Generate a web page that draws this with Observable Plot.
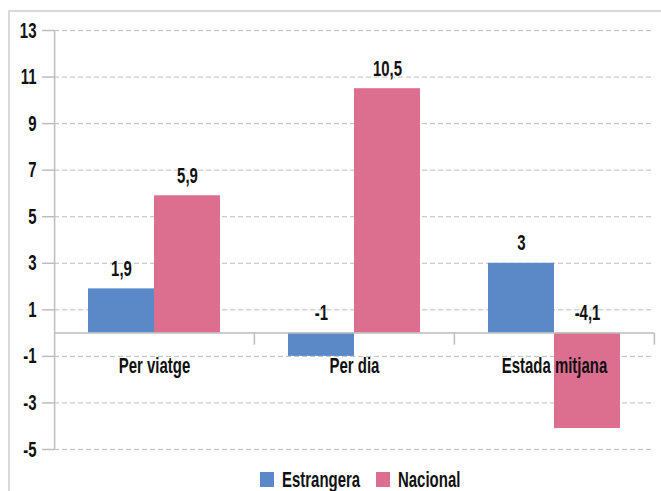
<!DOCTYPE html>
<html>
<head>
<meta charset="utf-8">
<script src="https://cdn.jsdelivr.net/npm/d3@7"></script>
<script src="https://cdn.jsdelivr.net/npm/@observablehq/plot@0.6"></script>
<style>
  html, body { margin: 0; padding: 0; background: #fff; overflow: hidden; }
  #wrap { position: relative; width: 661px; height: 491px; overflow: hidden; }
  #border { position: absolute; left: 8px; top: 10px; width: 700px; height: 600px;
            border-left: 2px solid #dadada; border-top: 2px solid #dadada; }
  #chart { position: absolute; left: 0; top: 0; }
  .leg { position: absolute; top: 472px; }
  .sw { position: absolute; width: 14px; height: 15px; }
  .lt { position: absolute; top: -5px; font: bold 22px "Liberation Sans Narrow", sans-serif;
        color: #111; transform: scaleX(0.68); transform-origin: left center; white-space: nowrap; }
</style>
</head>
<body>
<div id="wrap">
  <div id="border"></div>
  <div id="chart"></div>
  <div id="legend"></div>
</div>
<script>
const categories = ["Per viatge", "Per dia", "Estada mitjana"];
const series = ["Estrangera", "Nacional"];
const estrangera = [1.9, -1, 3];
const nacional = [5.9, 10.5, -4.1];
const yTicks = [-5, -3, -1, 1, 3, 5, 7, 9, 11, 13];
const colors = ["#5b89c7", "#dc6e90"];

const rows = [];
categories.forEach((c, i) => {
  rows.push({cat: c, serie: series[0], value: estrangera[i]});
  rows.push({cat: c, serie: series[1], value: nacional[i]});
});

const W = 661, H = 462, mL = 53, mR = 6, mT = 30, mB = 13;
const fw = (W - mL - mR) / categories.length;
const fmt = v => String(v).replace(".", ",");
const grey = "#bdbdbd";

const plot = Plot.plot({
  width: W, height: H,
  marginLeft: mL, marginRight: mR, marginTop: mT, marginBottom: mB,
  style: {fontFamily: "'Liberation Sans Narrow', sans-serif", fontSize: "22px", fontWeight: "bold", color: "#111", background: "transparent"},
  fx: {domain: categories, padding: 0, axis: null},
  x: {domain: series, paddingInner: 0, paddingOuter: 0.5, axis: null},
  y: {domain: [-5, 13]},
  color: {domain: series, range: colors},
  marks: [
    Plot.gridY(yTicks, {stroke: grey, strokeOpacity: 1, strokeDasharray: "5,3"}),
    Plot.barY(rows, {fx: "cat", x: "serie", y1: 0, y2: "value", fill: "serie", inset: 0}),
    Plot.ruleY([0], {stroke: grey, strokeWidth: 1.5}),
    Plot.ruleX([series[1]], {x: d => d, y1: 0, y2: -0.52, dx: fw / 3, stroke: grey, strokeWidth: 1.5}),
    Plot.ruleX([{cat: categories[0], serie: series[0]}], {fx: "cat", x: "serie", y1: -5, y2: 13, dx: -fw / 3, stroke: grey, strokeWidth: 1.5}),
    Plot.axisY(yTicks, {label: null, tickSize: 12, tickPadding: 6, tickFormat: d => String(d), stroke: grey, strokeWidth: 1.5, fill: "#111"}),
    Plot.text(rows, {fx: "cat", x: "serie", y: d => Math.max(0, d.value), text: d => fmt(d.value), dy: -13, lineAnchor: "bottom", fill: "#111"}),
    Plot.text(categories, {fx: d => d, y: () => 0, text: d => d, dy: 24, lineAnchor: "top", fill: "#111"})
  ]
});

plot.querySelectorAll("text").forEach(t => {
  const xa = t.getAttribute("x");
  let extra = "";
  if (xa !== null && !isNaN(+xa)) { extra = `translate(${+xa},0) `; t.removeAttribute("x"); }
  const tr = t.getAttribute("transform") || "";
  t.setAttribute("transform", `${tr} ${extra}scale(0.68,1)`);
});
document.getElementById("chart").appendChild(plot);

// legend
const legend = document.getElementById("legend");
const legPos = [260, 376];
series.forEach((s, i) => {
  const g = document.createElement("div");
  g.className = "leg";
  g.style.left = legPos[i] + "px";
  const sw = document.createElement("div");
  sw.className = "sw"; sw.style.background = colors[i];
  const lt = document.createElement("div");
  lt.className = "lt"; lt.style.left = "22px"; lt.textContent = s;
  g.appendChild(sw); g.appendChild(lt);
  legend.appendChild(g);
});
</script>
</body>
</html>
